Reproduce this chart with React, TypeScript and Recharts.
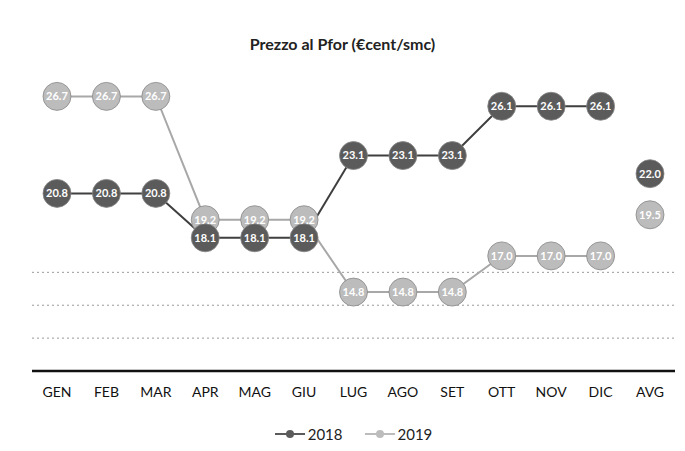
import { LineChart, Line, XAxis, YAxis, ReferenceLine, Legend, LabelList } from "recharts"

const months = ["GEN", "FEB", "MAR", "APR", "MAG", "GIU", "LUG", "AGO", "SET", "OTT", "NOV", "DIC", "AVG"]
const values2018 = [20.8, 20.8, 20.8, 18.1, 18.1, 18.1, 23.1, 23.1, 23.1, 26.1, 26.1, 26.1, null]
const values2019 = [26.7, 26.7, 26.7, 19.2, 19.2, 19.2, 14.8, 14.8, 14.8, 17.0, 17.0, 17.0, null]
const avg2018 = 22.0
const avg2019 = 19.5
const gridValues = [12, 14, 16]

const data = months.map((m, i) => ({
  month: m,
  y2018: values2018[i],
  y2019: values2019[i],
  a2018: m === "AVG" ? avg2018 : null,
  a2019: m === "AVG" ? avg2019 : null,
}))

const DARK = "#5b5b5b"
const LIGHT = "#bcbcbc"
const FONT = "Lato, 'Open Sans', sans-serif"

const makeDot = (fill: string) => (props: any) => {
  const { cx, cy, value, index } = props
  if (value == null || cx == null || cy == null) return <g key={index} />
  return <circle key={index} cx={cx} cy={cy} r={14} fill={fill} stroke="#888" strokeWidth={0.8} />
}

const fmt = (v: any) => (v == null ? "" : Number(v).toFixed(1))

const LegendContent = () => (
  <div style={{ display: "flex", justifyContent: "center", gap: 22, fontFamily: FONT, fontSize: 15, color: "#222", marginTop: 10 }}>
    {[{ name: "2018", c: DARK }, { name: "2019", c: LIGHT }].map((s) => (
      <span key={s.name} style={{ display: "flex", alignItems: "center", gap: 3 }}>
        <svg width={30} height={10}>
          <line x1={0} y1={5} x2={30} y2={5} stroke={s.c} strokeWidth={2} />
          <circle cx={15} cy={5} r={4} fill={s.c} />
        </svg>
        {s.name}
      </span>
    ))}
  </div>
)

export default function App() {
  return (
    <div style={{ position: "absolute", left: 0, top: 0, width: 685, height: 451, background: "#fff" }}>
      <div
        style={{
          position: "absolute",
          top: 34,
          width: 685,
          textAlign: "center",
          fontFamily: FONT,
          fontWeight: 700,
          fontSize: 16,
          color: "#222",
        }}
      >
        Prezzo al Pfor (€cent/smc)
      </div>
      <LineChart width={685} height={451} data={data} margin={{ top: 75, right: 10, left: 32, bottom: 6 }}>
        {gridValues.map((g) => (
          <ReferenceLine key={g} y={g} stroke="#999" strokeDasharray="2 3" />
        ))}
        <XAxis
          dataKey="month"
          padding={{ left: 25, right: 25 }}
          axisLine={{ stroke: "#111", strokeWidth: 2.5 }}
          tickLine={false}
          tick={{ fontSize: 14, fill: "#111", fontFamily: FONT }}
          tickMargin={10}
          height={44}
          interval={0}
        />
        <YAxis hide domain={[10, 28]} />
        <Legend verticalAlign="bottom" height={30} content={<LegendContent />} />
        <Line dataKey="y2019" stroke="#a8a8a8" strokeWidth={2} dot={makeDot(LIGHT)} isAnimationActive={false}>
          <LabelList dataKey="y2019" position="center" formatter={fmt} fill="#fff" fontSize={11} fontWeight={700} fontFamily={FONT} />
        </Line>
        <Line dataKey="y2018" stroke="#3f3f3f" strokeWidth={2} dot={makeDot(DARK)} isAnimationActive={false}>
          <LabelList dataKey="y2018" position="center" formatter={fmt} fill="#fff" fontSize={11} fontWeight={700} fontFamily={FONT} />
        </Line>
        <Line dataKey="a2018" stroke="none" dot={makeDot(DARK)} isAnimationActive={false} legendType="none">
          <LabelList dataKey="a2018" position="center" formatter={fmt} fill="#fff" fontSize={11} fontWeight={700} fontFamily={FONT} />
        </Line>
        <Line dataKey="a2019" stroke="none" dot={makeDot(LIGHT)} isAnimationActive={false} legendType="none">
          <LabelList dataKey="a2019" position="center" formatter={fmt} fill="#fff" fontSize={11} fontWeight={700} fontFamily={FONT} />
        </Line>
      </LineChart>
    </div>
  )
}
